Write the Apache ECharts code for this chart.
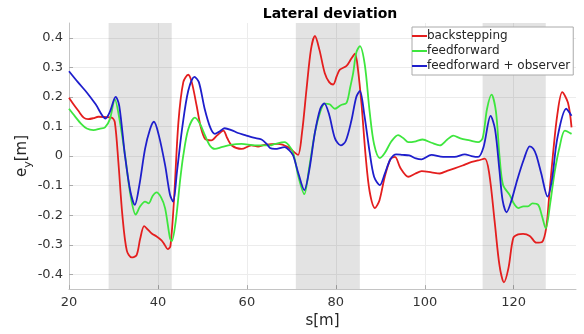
<!DOCTYPE html>
<html>
<head>
<meta charset="utf-8">
<script src="https://cdn.jsdelivr.net/npm/echarts@6/dist/echarts.min.js"></script>
<style>
  html, body { margin: 0; padding: 0; background: #fff; }
  #chart { width: 584px; height: 334px; }
</style>
</head>
<body>
<div id="chart"></div>
<script>
// Lateral deviation e_y over path length s, three controllers.

const xTicks = [20, 40, 60, 80, 100, 120]
const yTicks = [-0.4, -0.3, -0.2, -0.1, 0, 0.1, 0.2, 0.3, 0.4]

// shaded curve sections [start s, end s]
const curveSections = [[28.9, 43.1], [71.0, 85.4], [113.0, 127.2]]

const sBackstepping = [20, 21, 22.1, 23.3, 24.3, 25.5, 26.6, 28, 29.6, 30.3, 31.1, 32, 33, 34.1, 35.2, 36, 36.9, 37.8, 38.6, 39.7, 40.8, 41.5, 42.2, 42.8, 43.6, 44.6, 45.7, 46.8, 47.6, 48.7, 49.6, 50.6, 52, 53.3, 54.7, 55.6, 56.6, 58.8, 61, 62.5, 64, 67, 69.3, 70.5, 71.5, 72.4, 73.4, 74.4, 75.3, 76.3, 77.5, 78.5, 79.4, 80.2, 80.9, 82.4, 83.5, 84.3, 85, 85.8, 86.7, 87.6, 88.8, 89.8, 91, 92.3, 93.3, 94.5, 96.3, 97.8, 99.3, 101.5, 103.4, 105, 106.7, 108.5, 110.1, 112, 113.5, 114.5, 115.7, 116.8, 117.8, 118.8, 119.9, 121, 122.1, 123.6, 125.1, 126.4, 127.3, 128, 128.8, 129.8, 130.9, 132.2, 133]
const eBackstepping = [0.197, 0.175, 0.153, 0.13, 0.125, 0.128, 0.133, 0.132, 0.13, 0.115, -0.02, -0.2, -0.32, -0.343, -0.335, -0.28, -0.237, -0.25, -0.262, -0.272, -0.285, -0.3, -0.315, -0.305, -0.15, 0.114, 0.25, 0.275, 0.25, 0.17, 0.1, 0.058, 0.053, 0.07, 0.086, 0.06, 0.036, 0.024, 0.036, 0.032, 0.038, 0.041, 0.03, 0.015, 0.004, 0.08, 0.225, 0.36, 0.406, 0.36, 0.281, 0.25, 0.242, 0.27, 0.292, 0.305, 0.33, 0.346, 0.29, 0.17, 0.0, -0.12, -0.176, -0.15, -0.07, -0.01, -0.003, -0.04, -0.07, -0.06, -0.051, -0.055, -0.059, -0.05, -0.042, -0.032, -0.022, -0.015, -0.009, -0.06, -0.22, -0.37, -0.427, -0.38, -0.277, -0.265, -0.263, -0.27, -0.293, -0.29, -0.243, -0.13, 0.002, 0.14, 0.216, 0.18, 0.097]

const sFeedforward = [20, 21.3, 22.8, 24, 25.5, 27, 28.1, 29.2, 30.3, 31.4, 32.6, 33.8, 35, 36, 37.1, 37.9, 38.8, 39.7, 40.7, 41.6, 42.7, 43.1, 44, 45, 45.7, 46.8, 48.3, 49.4, 50.6, 51.7, 52.8, 54.3, 55.8, 58.8, 61.8, 65.2, 66.3, 68.5, 69.5, 70.4, 71.6, 72.9, 74, 75.3, 76.5, 77.5, 78.6, 79.8, 81.1, 82.4, 83.2, 83.9, 84.6, 85.4, 86.5, 87.6, 88.6, 89.9, 91, 92.5, 94, 95.2, 96.3, 98, 99.5, 101.5, 103.4, 105, 106.4, 108, 110.1, 112, 113, 114, 115, 116, 116.8, 117.6, 119.1, 120, 121, 122.2, 123.2, 124.2, 125.5, 126.3, 127.2, 128.2, 129.2, 130.3, 131.5, 133]
const eFeedforward = [0.16, 0.135, 0.108, 0.093, 0.088, 0.093, 0.097, 0.125, 0.192, 0.12, 0.002, -0.13, -0.198, -0.17, -0.154, -0.16, -0.135, -0.123, -0.14, -0.176, -0.277, -0.288, -0.22, -0.08, 0.002, 0.09, 0.13, 0.11, 0.069, 0.035, 0.024, 0.03, 0.036, 0.041, 0.036, 0.036, 0.041, 0.047, 0.035, 0.012, -0.07, -0.129, -0.04, 0.08, 0.15, 0.177, 0.175, 0.16, 0.172, 0.18, 0.23, 0.281, 0.35, 0.372, 0.31, 0.15, 0.04, -0.007, 0.01, 0.05, 0.071, 0.06, 0.047, 0.05, 0.056, 0.045, 0.036, 0.055, 0.069, 0.06, 0.053, 0.047, 0.06, 0.16, 0.208, 0.15, 0.0, -0.098, -0.132, -0.16, -0.176, -0.17, -0.17, -0.16, -0.165, -0.2, -0.245, -0.16, -0.054, 0.03, 0.086, 0.075]

const sObserver = [20, 22, 24, 26, 28.2, 29.2, 30.5, 31.3, 32.6, 33.8, 34.8, 35.8, 37.1, 38.2, 39.1, 40.2, 41.6, 42.7, 43.4, 44.3, 45.5, 46.8, 48.2, 49.2, 50.5, 51.8, 52.8, 54, 55, 56.5, 58, 59.6, 61.5, 63.3, 64.5, 65.2, 66.3, 68.5, 69.5, 70.4, 71.6, 72.9, 74, 75.3, 76.5, 77.4, 78.5, 79.8, 81.1, 82.2, 83.5, 84.6, 85.4, 86.4, 87.6, 88.6, 89.9, 91, 92.3, 93.6, 95, 96.5, 98, 99.3, 101.5, 104.1, 106.7, 109, 110.5, 112, 113.2, 114.8, 115.8, 116.8, 117.5, 118.4, 119.5, 120.8, 122.3, 123.6, 124.4, 125.1, 126.2, 127.6, 128.6, 129.8, 131.8, 133]
const eObserver = [0.287, 0.25, 0.215, 0.175, 0.127, 0.15, 0.2, 0.17, 0.0, -0.12, -0.165, -0.1, 0.024, 0.09, 0.116, 0.07, -0.03, -0.13, -0.154, -0.05, 0.1, 0.22, 0.268, 0.25, 0.16, 0.095, 0.075, 0.085, 0.094, 0.088, 0.078, 0.071, 0.062, 0.056, 0.04, 0.027, 0.024, 0.03, 0.02, 0.002, -0.06, -0.115, -0.05, 0.08, 0.16, 0.178, 0.14, 0.06, 0.036, 0.05, 0.12, 0.2, 0.22, 0.14, 0.013, -0.07, -0.098, -0.06, -0.01, 0.006, 0.004, 0.002, -0.008, -0.011, 0.004, -0.003, -0.003, 0.006, 0.0, -0.003, 0.03, 0.136, 0.09, -0.05, -0.15, -0.19, -0.15, -0.08, -0.01, 0.033, 0.025, 0.002, -0.06, -0.137, -0.08, 0.06, 0.16, 0.136]

const FONT = "DejaVu Sans"

function pairs(xs, ys) {
  return xs.map((x, i) => [x, ys[i]])
}

function lineSeries(name, xs, ys, color) {
  return {
    name,
    type: "line",
    data: pairs(xs, ys),
    smooth: 0.3,
    symbol: "none",
    lineStyle: {color, width: 1.8},
    itemStyle: {color},
    z: 3,
  }
}

const series = [
  lineSeries("backstepping", sBackstepping, eBackstepping, "#e41e1e"),
  lineSeries("feedforward", sFeedforward, eFeedforward, "#3ee63e"),
  lineSeries("feedforward + observer", sObserver, eObserver, "#1e1ecc"),
]

series[0].markArea = {
  silent: true,
  itemStyle: {color: "rgba(0,0,0,0.11)"},
  data: curveSections.map(([a, b]) => [{xAxis: a}, {xAxis: b}]),
}

const chart = echarts.init(document.getElementById("chart"), null, {renderer: "canvas"})

chart.setOption({
  animation: false,
  backgroundColor: "#fff",
  textStyle: {fontFamily: FONT},
  title: {
    text: "Lateral deviation",
    left: 325,
    top: 2,
    textAlign: "center",
    textStyle: {fontFamily: FONT, fontSize: 14, fontWeight: "bold", color: "#000"},
  },
  legend: {
    orient: "vertical",
    left: 412,
    top: 27,
    icon: "rect",
    itemWidth: 15,
    itemHeight: 2,
    itemGap: 1,
    padding: [2, 3, 2, 0],
    backgroundColor: "#fff",
    borderColor: "#aaa",
    borderWidth: 1,
    borderRadius: 0,
    textStyle: {fontFamily: FONT, fontSize: 12, color: "#262626", padding: [0, 0, 0, -5], lineHeight: 14},
  },
  grid: {left: 69, right: 8, top: 23, bottom: 43},
  xAxis: {
    type: "value",
    min: 20,
    max: 134,
    name: "s[m]",
    nameLocation: "middle",
    nameGap: 23,
    nameTextStyle: {fontFamily: FONT, fontSize: 15, color: "#262626"},
    axisLine: {onZero: false, lineStyle: {color: "#c4c4c4"}},
    axisTick: {inside: true, length: 4, lineStyle: {color: "#aaa"}, customValues: xTicks},
    axisLabel: {fontFamily: FONT, fontSize: 13, color: "#333", margin: 7, customValues: xTicks},
    splitLine: {lineStyle: {color: "#ececec"}},
  },
  yAxis: {
    type: "value",
    min: -0.45,
    max: 0.45,
    name: "{e|e}{sub|y}{e|[m]}",
    nameLocation: "middle",
    nameGap: 35,
    nameMoveOverlap: false,
    nameTextStyle: {
      fontFamily: FONT,
      color: "#262626",
      rich: {
        e: {fontFamily: FONT, fontSize: 15, color: "#262626", verticalAlign: "top"},
        sub: {fontFamily: FONT, fontSize: 11, color: "#262626", verticalAlign: "top", padding: [8, 0, 0, 0]},
      },
    },
    axisLine: {show: true, onZero: false, lineStyle: {color: "#c4c4c4"}},
    axisTick: {show: true, inside: true, length: 4, lineStyle: {color: "#aaa"}, customValues: yTicks},
    axisLabel: {
      fontFamily: FONT,
      fontSize: 13,
      color: "#333",
      margin: 6,
      customValues: yTicks,
      formatter: v => (Math.abs(v) < 1e-9 ? "0" : v.toFixed(1)),
    },
    splitLine: {lineStyle: {color: "#ececec"}},
  },
  series,
})
</script>
</body>
</html>
